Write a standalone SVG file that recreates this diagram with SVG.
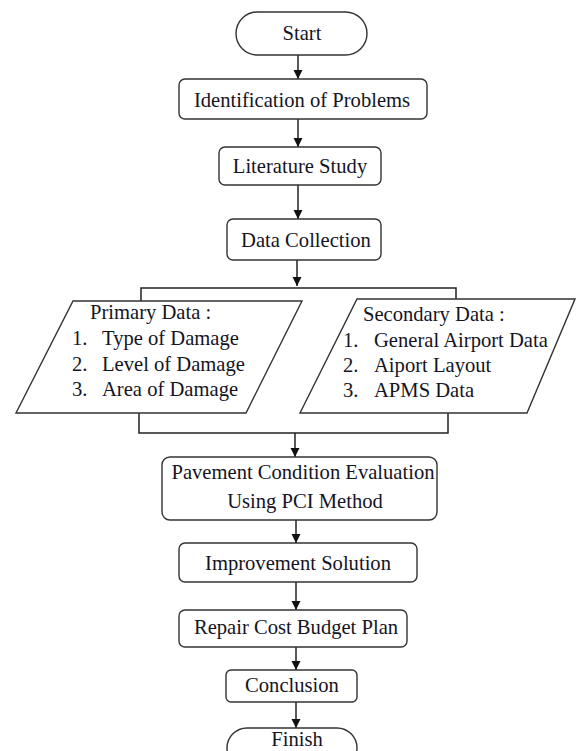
<svg xmlns="http://www.w3.org/2000/svg" width="576" height="751" viewBox="0 0 576 751">
<defs>
<style>
.box{fill:#fff;stroke:#333;stroke-width:1.4}
.t{font-family:"Liberation Serif","Times New Roman",serif;font-size:20.6px;fill:#14141f}
.c{text-anchor:middle}
.ln{fill:none;stroke:#222;stroke-width:1.5}
</style>
<marker id="ah" markerUnits="userSpaceOnUse" markerWidth="10" markerHeight="10" refX="9" refY="5" orient="auto">
<path d="M0,0.5 L9,5 L0,9.5 Z" fill="#111"/>
</marker>
</defs>
<rect width="576" height="751" fill="#fff"/>
<g id="connectors">
<line class="ln" x1="298" y1="55" x2="298" y2="79" marker-end="url(#ah)"/>
<line class="ln" x1="298" y1="119" x2="298" y2="147" marker-end="url(#ah)"/>
<line class="ln" x1="298" y1="185" x2="298" y2="219" marker-end="url(#ah)"/>
<line class="ln" x1="297" y1="260" x2="297" y2="286" marker-end="url(#ah)"/>
<polyline class="ln" points="141,301 141,288 456,288 456,299"/>
<polyline class="ln" points="139,413 139,433 448,433 448,413"/>
<line class="ln" x1="295" y1="433" x2="295" y2="457" marker-end="url(#ah)"/>
<line class="ln" x1="296" y1="520" x2="296" y2="543" marker-end="url(#ah)"/>
<line class="ln" x1="296" y1="582" x2="296" y2="610" marker-end="url(#ah)"/>
<line class="ln" x1="296" y1="647" x2="296" y2="670" marker-end="url(#ah)"/>
<line class="ln" x1="296" y1="702" x2="296" y2="728" marker-end="url(#ah)"/>
</g>
<g id="start">
<rect class="box" x="236" y="12" width="131" height="43" rx="21.5"/>
<text class="t c" x="302" y="40">Start</text>
</g>
<g id="identification">
<rect class="box" x="179" y="79" width="248" height="40" rx="6"/>
<text class="t c" x="302" y="107">Identification of Problems</text>
</g>
<g id="literature">
<rect class="box" x="219" y="147" width="162" height="38" rx="6"/>
<text class="t c" x="300" y="173">Literature Study</text>
</g>
<g id="datacollection">
<rect class="box" x="227" y="219" width="154" height="41" rx="6"/>
<text class="t c" x="306" y="247">Data Collection</text>
</g>
<g id="primary">
<polygon class="box" points="73,301 302,301 246,413 16,413"/>
<text class="t" x="90" y="319">Primary Data :</text>
<text class="t" y="345"><tspan x="72">1.</tspan><tspan x="102">Type of Damage</tspan></text>
<text class="t" y="371"><tspan x="72">2.</tspan><tspan x="102">Level of Damage</tspan></text>
<text class="t" y="396"><tspan x="72">3.</tspan><tspan x="102">Area of Damage</tspan></text>
</g>
<g id="secondary">
<polygon class="box" points="357,299 575,299 527,413 300,413"/>
<text class="t" x="363" y="321">Secondary Data :</text>
<text class="t" y="347"><tspan x="343">1.</tspan><tspan x="374">General Airport Data</tspan></text>
<text class="t" y="372"><tspan x="343">2.</tspan><tspan x="374">Aiport Layout</tspan></text>
<text class="t" y="397"><tspan x="343">3.</tspan><tspan x="374">APMS Data</tspan></text>
</g>
<g id="pce">
<rect class="box" x="162" y="457" width="275" height="63" rx="8"/>
<text class="t c" x="303" y="479">Pavement Condition Evaluation</text>
<text class="t c" x="305" y="508">Using PCI Method</text>
</g>
<g id="improvement">
<rect class="box" x="179" y="543" width="238" height="39" rx="6"/>
<text class="t c" x="298" y="570">Improvement Solution</text>
</g>
<g id="repair">
<rect class="box" x="179" y="610" width="228" height="37" rx="6"/>
<text class="t c" x="296" y="634">Repair Cost Budget Plan</text>
</g>
<g id="conclusion">
<rect class="box" x="226" y="670" width="131" height="32" rx="5"/>
<text class="t c" x="292" y="692">Conclusion</text>
</g>
<g id="finish">
<rect class="box" x="227" y="728" width="130" height="40" rx="20"/>
<text class="t c" x="297" y="746">Finish</text>
</g>
</svg>
